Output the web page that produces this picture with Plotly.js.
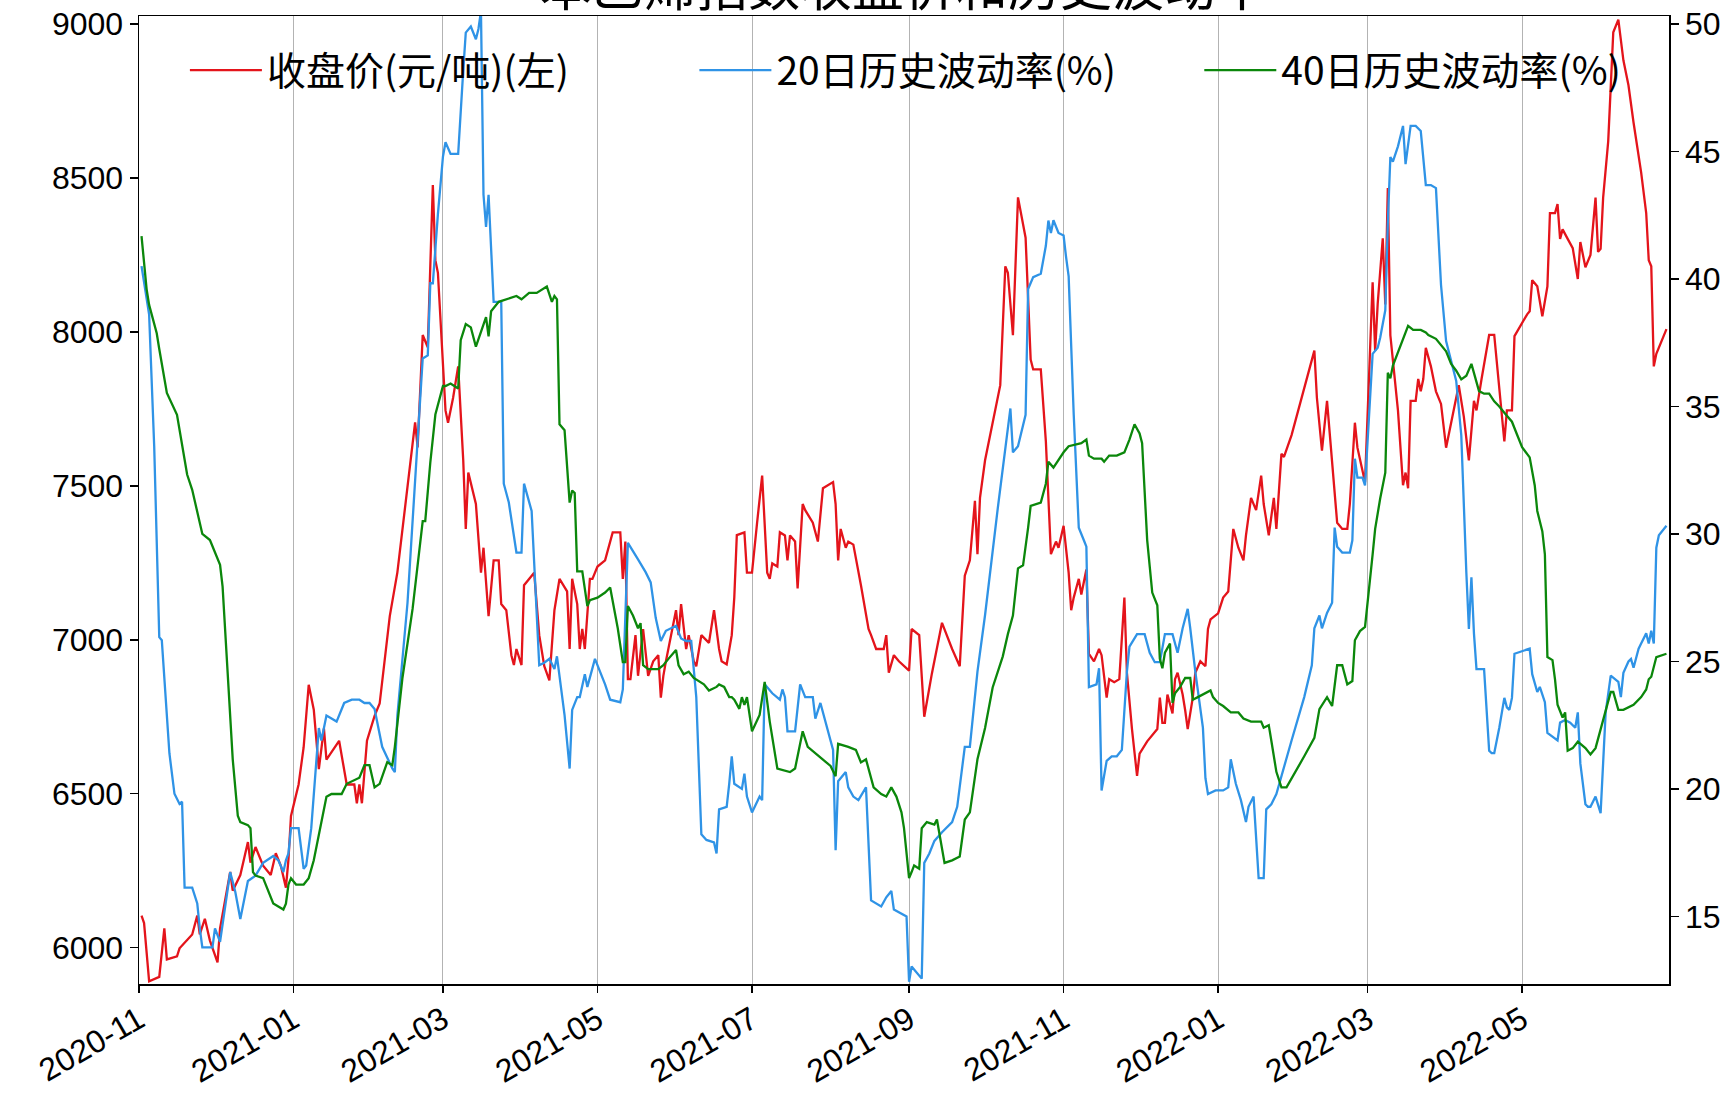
<!DOCTYPE html>
<html>
<head>
<meta charset="utf-8">
<script src="https://cdn.plot.ly/plotly-3.0.1.min.js"></script>
<style>
  html, body { margin: 0; padding: 0; background: #ffffff; }
  #chart { width: 1723px; height: 1094px; }
</style>
</head>
<body>
<div id="chart"></div>
<script>
// ---------- data ----------
const chartTitle = "苯乙烯指数收盘价和历史波动率";
const seriesNames = ["收盘价(元/吨)(左)", "20日历史波动率(%)", "40日历史波动率(%)"];

const priceDates = ["2020-11-02","2020-11-03","2020-11-05","2020-11-09","2020-11-11","2020-11-12","2020-11-16","2020-11-17","2020-11-22","2020-11-24","2020-11-25","2020-11-27","2020-11-29","2020-12-02","2020-12-03","2020-12-07","2020-12-08","2020-12-11","2020-12-14","2020-12-15","2020-12-17","2020-12-20","2020-12-23","2020-12-25","2020-12-27","2020-12-29","2020-12-30","2020-12-31","2021-01-03","2021-01-05","2021-01-07","2021-01-09","2021-01-11","2021-01-13","2021-01-14","2021-01-19","2021-01-22","2021-01-25","2021-01-26","2021-01-27","2021-01-28","2021-01-30","2021-02-02","2021-02-04","2021-02-08","2021-02-11","2021-02-18","2021-02-19","2021-02-21","2021-02-23","2021-02-25","2021-02-26","2021-02-27","2021-03-01","2021-03-02","2021-03-03","2021-03-05","2021-03-07","2021-03-09","2021-03-10","2021-03-11","2021-03-14","2021-03-16","2021-03-17","2021-03-19","2021-03-21","2021-03-23","2021-03-24","2021-03-26","2021-03-28","2021-03-29","2021-03-30","2021-04-01","2021-04-02","2021-04-06","2021-04-08","2021-04-10","2021-04-12","2021-04-14","2021-04-16","2021-04-19","2021-04-20","2021-04-21","2021-04-23","2021-04-24","2021-04-25","2021-04-26","2021-04-28","2021-04-29","2021-05-01","2021-05-04","2021-05-07","2021-05-10","2021-05-11","2021-05-12","2021-05-13","2021-05-14","2021-05-16","2021-05-17","2021-05-19","2021-05-21","2021-05-23","2021-05-25","2021-05-26","2021-05-27","2021-05-28","2021-05-30","2021-06-01","2021-06-02","2021-06-03","2021-06-05","2021-06-06","2021-06-08","2021-06-09","2021-06-11","2021-06-14","2021-06-16","2021-06-18","2021-06-19","2021-06-21","2021-06-23","2021-06-24","2021-06-25","2021-06-28","2021-06-29","2021-07-01","2021-07-03","2021-07-05","2021-07-07","2021-07-08","2021-07-09","2021-07-11","2021-07-12","2021-07-14","2021-07-15","2021-07-16","2021-07-18","2021-07-19","2021-07-21","2021-07-22","2021-07-25","2021-07-27","2021-07-29","2021-08-02","2021-08-03","2021-08-04","2021-08-05","2021-08-07","2021-08-08","2021-08-10","2021-08-13","2021-08-16","2021-08-17","2021-08-19","2021-08-22","2021-08-23","2021-08-24","2021-08-26","2021-08-28","2021-08-30","2021-09-01","2021-09-02","2021-09-05","2021-09-07","2021-09-10","2021-09-14","2021-09-18","2021-09-21","2021-09-23","2021-09-25","2021-09-27","2021-09-28","2021-09-29","2021-10-01","2021-10-07","2021-10-09","2021-10-10","2021-10-12","2021-10-14","2021-10-17","2021-10-19","2021-10-20","2021-10-23","2021-10-25","2021-10-27","2021-10-29","2021-10-30","2021-11-01","2021-11-03","2021-11-04","2021-11-05","2021-11-07","2021-11-08","2021-11-10","2021-11-11","2021-11-13","2021-11-15","2021-11-16","2021-11-18","2021-11-19","2021-11-21","2021-11-23","2021-11-25","2021-11-26","2021-11-28","2021-11-30","2021-12-01","2021-12-04","2021-12-06","2021-12-08","2021-12-09","2021-12-10","2021-12-11","2021-12-12","2021-12-14","2021-12-15","2021-12-16","2021-12-18","2021-12-19","2021-12-20","2021-12-22","2021-12-23","2021-12-25","2021-12-27","2021-12-28","2021-12-29","2022-01-01","2022-01-03","2022-01-05","2022-01-07","2022-01-09","2022-01-11","2022-01-12","2022-01-14","2022-01-16","2022-01-18","2022-01-19","2022-01-21","2022-01-23","2022-01-24","2022-01-26","2022-01-27","2022-01-30","2022-02-08","2022-02-09","2022-02-11","2022-02-13","2022-02-15","2022-02-17","2022-02-19","2022-02-21","2022-02-22","2022-02-24","2022-02-25","2022-02-27","2022-02-28","2022-03-03","2022-03-04","2022-03-05","2022-03-07","2022-03-08","2022-03-09","2022-03-10","2022-03-11","2022-03-13","2022-03-15","2022-03-16","2022-03-17","2022-03-18","2022-03-20","2022-03-21","2022-03-22","2022-03-23","2022-03-24","2022-03-26","2022-03-28","2022-03-30","2022-04-01","2022-04-02","2022-04-04","2022-04-06","2022-04-08","2022-04-10","2022-04-12","2022-04-13","2022-04-15","2022-04-18","2022-04-20","2022-04-22","2022-04-24","2022-04-25","2022-04-27","2022-04-28","2022-04-30","2022-05-03","2022-05-04","2022-05-05","2022-05-07","2022-05-09","2022-05-11","2022-05-12","2022-05-14","2022-05-15","2022-05-16","2022-05-17","2022-05-19","2022-05-21","2022-05-23","2022-05-24","2022-05-26","2022-05-28","2022-05-30","2022-05-31","2022-06-01","2022-06-02","2022-06-04","2022-06-06","2022-06-08","2022-06-10","2022-06-12","2022-06-14","2022-06-17","2022-06-19","2022-06-20","2022-06-21","2022-06-22","2022-06-23","2022-06-27"];
const priceValues = [6104,6080,5891,5905,6063,5962,5972,5998,6043,6104,6043,6094,6023,5952,6063,6246,6185,6236,6343,6276,6327,6266,6236,6307,6266,6195,6286,6428,6530,6651,6854,6773,6580,6712,6611,6672,6530,6530,6469,6530,6469,6672,6753,6793,7077,7219,7706,7625,7990,7950,8477,8233,8192,7867,7745,7705,7786,7888,7583,7360,7543,7441,7218,7299,7077,7258,7258,7116,7096,6950,6918,6970,6918,7177,7218,7015,6914,6868,7096,7198,7157,6970,7198,7116,6970,7035,6970,7198,7198,7238,7258,7349,7349,7198,7319,6872,6872,7015,6883,7035,6883,6930,6950,6812,6883,6930,7015,7096,7015,7116,6970,7015,6930,6914,7015,6990,7096,6970,6930,6920,7015,7137,7340,7349,7218,7218,7380,7533,7218,7198,7248,7238,7349,7339,7258,7339,7319,7167,7441,7421,7380,7319,7492,7512,7441,7258,7360,7299,7319,7309,7177,7035,7015,6970,6970,7015,6893,6950,6930,6914,6900,7035,7015,6750,6890,7055,6970,6914,7208,7258,7451,7278,7461,7583,7827,8213,8192,7989,8437,8306,7910,7878,7878,7645,7278,7319,7299,7370,7218,7096,7137,7198,7147,7228,6954,6930,6970,6950,6812,6872,6862,6872,7137,6893,6710,6558,6630,6670,6690,6710,6812,6730,6730,6822,6761,6872,6893,6822,6771,6710,6812,6893,6930,6914,7035,7066,7086,7137,7157,7360,7299,7258,7339,7461,7421,7533,7441,7339,7461,7360,7604,7594,7665,7939,7786,7614,7776,7583,7380,7360,7360,7441,7705,7624,7543,7512,8161,7938,8091,8304,8089,8467,7989,7910,7745,7502,7543,7492,7776,7776,7847,7807,7847,7948,7888,7807,7766,7624,7665,7745,7827,7725,7583,7776,7745,7847,7990,7990,7807,7644,7745,7745,7986,8016,8057,8067,8168,8148,8051,8148,8386,8386,8415,8302,8333,8302,8272,8172,8292,8210,8250,8436,8260,8270,8436,8619,8973,9014,8882,8801,8680,8518,8386,8233,8213,7888,7929,8009];

const vol20Dates = ["2020-11-02","2020-11-05","2020-11-07","2020-11-09","2020-11-10","2020-11-13","2020-11-15","2020-11-17","2020-11-18","2020-11-19","2020-11-22","2020-11-24","2020-11-25","2020-11-26","2020-11-30","2020-12-01","2020-12-03","2020-12-07","2020-12-09","2020-12-11","2020-12-14","2020-12-17","2020-12-20","2020-12-24","2020-12-26","2020-12-28","2020-12-29","2020-12-30","2020-12-31","2021-01-03","2021-01-05","2021-01-06","2021-01-08","2021-01-10","2021-01-11","2021-01-12","2021-01-14","2021-01-16","2021-01-18","2021-01-21","2021-01-24","2021-01-27","2021-01-29","2021-01-31","2021-02-02","2021-02-05","2021-02-09","2021-02-10","2021-02-11","2021-02-15","2021-02-19","2021-02-21","2021-02-23","2021-02-24","2021-02-25","2021-02-27","2021-03-01","2021-03-02","2021-03-04","2021-03-07","2021-03-09","2021-03-10","2021-03-12","2021-03-14","2021-03-15","2021-03-16","2021-03-17","2021-03-18","2021-03-19","2021-03-20","2021-03-21","2021-03-24","2021-03-25","2021-03-27","2021-03-30","2021-04-01","2021-04-02","2021-04-05","2021-04-08","2021-04-10","2021-04-12","2021-04-14","2021-04-15","2021-04-18","2021-04-20","2021-04-21","2021-04-23","2021-04-24","2021-04-26","2021-04-27","2021-04-30","2021-05-04","2021-05-06","2021-05-10","2021-05-11","2021-05-13","2021-05-14","2021-05-17","2021-05-20","2021-05-22","2021-05-24","2021-05-26","2021-05-28","2021-05-30","2021-06-01","2021-06-03","2021-06-05","2021-06-07","2021-06-08","2021-06-09","2021-06-11","2021-06-13","2021-06-16","2021-06-17","2021-06-18","2021-06-21","2021-06-22","2021-06-23","2021-06-24","2021-06-27","2021-06-28","2021-06-29","2021-07-01","2021-07-04","2021-07-05","2021-07-06","2021-07-09","2021-07-12","2021-07-13","2021-07-14","2021-07-15","2021-07-18","2021-07-20","2021-07-22","2021-07-25","2021-07-26","2021-07-28","2021-07-30","2021-08-02","2021-08-03","2021-08-04","2021-08-07","2021-08-08","2021-08-10","2021-08-12","2021-08-15","2021-08-17","2021-08-21","2021-08-23","2021-08-25","2021-08-26","2021-08-31","2021-09-01","2021-09-02","2021-09-04","2021-09-06","2021-09-07","2021-09-09","2021-09-11","2021-09-14","2021-09-18","2021-09-20","2021-09-23","2021-09-25","2021-09-28","2021-10-01","2021-10-06","2021-10-09","2021-10-11","2021-10-12","2021-10-14","2021-10-17","2021-10-18","2021-10-20","2021-10-23","2021-10-25","2021-10-26","2021-10-27","2021-10-28","2021-10-30","2021-11-01","2021-11-02","2021-11-03","2021-11-05","2021-11-07","2021-11-09","2021-11-10","2021-11-11","2021-11-14","2021-11-15","2021-11-16","2021-11-18","2021-11-20","2021-11-22","2021-11-24","2021-11-26","2021-11-27","2021-11-30","2021-12-03","2021-12-05","2021-12-07","2021-12-09","2021-12-11","2021-12-14","2021-12-16","2021-12-18","2021-12-20","2021-12-21","2021-12-23","2021-12-26","2021-12-27","2021-12-28","2021-12-31","2022-01-03","2022-01-05","2022-01-06","2022-01-08","2022-01-10","2022-01-12","2022-01-13","2022-01-15","2022-01-17","2022-01-19","2022-01-20","2022-01-22","2022-01-24","2022-01-27","2022-01-30","2022-02-04","2022-02-07","2022-02-08","2022-02-10","2022-02-11","2022-02-13","2022-02-15","2022-02-16","2022-02-17","2022-02-19","2022-02-22","2022-02-23","2022-02-24","2022-02-25","2022-02-27","2022-02-28","2022-03-03","2022-03-05","2022-03-06","2022-03-08","2022-03-09","2022-03-10","2022-03-11","2022-03-13","2022-03-15","2022-03-16","2022-03-18","2022-03-20","2022-03-22","2022-03-24","2022-03-26","2022-03-28","2022-03-30","2022-04-01","2022-04-05","2022-04-07","2022-04-09","2022-04-10","2022-04-11","2022-04-12","2022-04-13","2022-04-16","2022-04-18","2022-04-19","2022-04-20","2022-04-22","2022-04-24","2022-04-25","2022-04-26","2022-04-27","2022-04-28","2022-05-01","2022-05-04","2022-05-05","2022-05-07","2022-05-08","2022-05-10","2022-05-11","2022-05-14","2022-05-15","2022-05-16","2022-05-18","2022-05-20","2022-05-22","2022-05-23","2022-05-24","2022-05-26","2022-05-27","2022-05-28","2022-05-30","2022-06-01","2022-06-02","2022-06-03","2022-06-05","2022-06-08","2022-06-09","2022-06-10","2022-06-12","2022-06-13","2022-06-14","2022-06-16","2022-06-17","2022-06-19","2022-06-20","2022-06-21","2022-06-22","2022-06-23","2022-06-24","2022-06-27"];
const vol20Values = [40.5,38.6,33.44,25.95,25.83,21.4,19.81,19.41,19.5,16.13,16.13,15.51,14.53,13.79,13.79,14.53,14.0,16.74,15.97,14.9,16.39,16.6,17.1,17.37,17.2,16.74,17.2,17.47,18.46,18.46,16.87,17.0,18.46,20.93,22.39,21.9,22.88,22.76,22.64,23.37,23.5,23.5,23.37,23.37,23.13,21.65,20.8,20.66,22.88,27.3,33.44,36.88,37.0,39.83,39.83,42.54,44.8,45.36,44.9,44.9,48.18,49.66,49.9,49.4,49.8,50.5,43.3,42.04,43.3,41.1,39.1,39.1,31.97,31.23,29.27,29.27,31.97,30.9,24.85,24.95,25.1,24.7,25.2,22.89,20.8,23.1,23.6,23.6,24.5,24.0,25.1,24.1,23.5,23.4,23.9,29.65,29.5,29.0,28.5,28.1,26.7,25.8,26.2,26.3,26.4,25.9,25.8,25.8,24.6,23.6,18.22,18.0,17.9,17.47,19.2,19.3,20.2,21.28,20.2,20.0,20.6,19.7,19.08,19.7,19.56,24.1,23.75,23.5,23.9,23.6,22.26,22.26,24.1,23.6,23.6,22.76,23.37,22.64,21.53,17.6,20.3,20.66,20.06,19.7,19.56,20.06,15.63,15.39,15.75,16.0,15.27,15.0,12.44,13.04,12.8,12.56,17.1,17.47,17.96,18.3,18.7,19.3,21.65,21.65,24.6,26.82,30.99,33.44,34.92,33.2,33.44,34.67,39.6,40.07,40.2,41.3,42.29,41.8,42.3,41.8,41.7,40.84,40.1,34.68,30.24,29.75,29.5,23.99,24.1,24.73,19.94,21.1,21.28,21.28,21.53,24.6,25.58,26.07,26.07,25.34,24.97,24.97,26.07,26.07,25.34,26.3,27.06,26.3,24.6,22.4,20.42,19.8,19.94,19.94,20.06,21.16,20.2,19.56,18.7,19.3,19.7,16.5,16.5,19.2,19.4,19.8,20.9,21.9,23.6,24.85,26.3,26.8,26.3,26.9,27.3,30.25,29.5,29.27,29.27,29.75,32.95,32.21,32.21,31.9,37.06,37.3,37.7,38.77,42.2,44.78,44.6,45.2,46.0,44.5,46.0,46.0,45.8,43.68,43.68,43.56,39.76,37.56,36.0,33.87,28.48,26.27,28.3,26.1,24.7,24.7,21.5,21.4,21.4,22.4,23.57,23.2,23.1,23.57,25.3,25.4,25.5,24.5,23.8,24.0,23.4,22.2,22.0,21.9,22.6,22.7,22.6,22.4,23.0,21.0,19.4,19.3,19.3,19.7,19.05,21.1,23.0,24.44,24.2,23.6,24.55,25.0,25.1,24.75,25.5,25.7,26.1,25.7,26.2,25.7,29.46,29.95,30.32];

const vol40Dates = ["2020-11-02","2020-11-03","2020-11-04","2020-11-05","2020-11-08","2020-11-09","2020-11-12","2020-11-16","2020-11-20","2020-11-22","2020-11-26","2020-11-29","2020-11-30","2020-12-03","2020-12-04","2020-12-08","2020-12-10","2020-12-11","2020-12-14","2020-12-15","2020-12-16","2020-12-17","2020-12-20","2020-12-21","2020-12-24","2020-12-26","2020-12-28","2020-12-29","2020-12-30","2020-12-31","2021-01-02","2021-01-05","2021-01-07","2021-01-09","2021-01-11","2021-01-14","2021-01-16","2021-01-20","2021-01-22","2021-01-24","2021-01-27","2021-01-29","2021-01-31","2021-02-02","2021-02-04","2021-02-07","2021-02-09","2021-02-10","2021-02-13","2021-02-17","2021-02-21","2021-02-22","2021-02-24","2021-02-26","2021-03-01","2021-03-02","2021-03-04","2021-03-07","2021-03-08","2021-03-10","2021-03-12","2021-03-14","2021-03-16","2021-03-18","2021-03-19","2021-03-20","2021-03-23","2021-03-26","2021-03-30","2021-04-01","2021-04-04","2021-04-07","2021-04-09","2021-04-11","2021-04-13","2021-04-14","2021-04-15","2021-04-16","2021-04-18","2021-04-20","2021-04-21","2021-04-22","2021-04-23","2021-04-25","2021-04-27","2021-04-28","2021-05-01","2021-05-04","2021-05-06","2021-05-09","2021-05-11","2021-05-12","2021-05-13","2021-05-15","2021-05-17","2021-05-18","2021-05-19","2021-05-21","2021-05-25","2021-05-27","2021-05-29","2021-06-01","2021-06-02","2021-06-04","2021-06-06","2021-06-08","2021-06-12","2021-06-14","2021-06-17","2021-06-18","2021-06-20","2021-06-22","2021-06-23","2021-06-24","2021-06-26","2021-06-27","2021-06-28","2021-06-29","2021-07-01","2021-07-04","2021-07-06","2021-07-08","2021-07-11","2021-07-16","2021-07-18","2021-07-21","2021-07-23","2021-07-26","2021-07-29","2021-08-01","2021-08-03","2021-08-04","2021-08-08","2021-08-11","2021-08-13","2021-08-15","2021-08-18","2021-08-21","2021-08-23","2021-08-25","2021-08-27","2021-08-29","2021-08-30","2021-09-01","2021-09-02","2021-09-03","2021-09-05","2021-09-06","2021-09-08","2021-09-11","2021-09-12","2021-09-15","2021-09-18","2021-09-21","2021-09-23","2021-09-25","2021-09-28","2021-10-01","2021-10-04","2021-10-08","2021-10-10","2021-10-12","2021-10-14","2021-10-16","2021-10-18","2021-10-19","2021-10-23","2021-10-25","2021-10-26","2021-10-28","2021-11-01","2021-11-03","2021-11-08","2021-11-10","2021-11-11","2021-11-13","2021-11-16","2021-11-17","2021-11-19","2021-11-22","2021-11-25","2021-11-27","2021-11-29","2021-12-01","2021-12-02","2021-12-04","2021-12-06","2021-12-08","2021-12-09","2021-12-10","2021-12-11","2021-12-13","2021-12-14","2021-12-15","2021-12-17","2021-12-19","2021-12-21","2021-12-22","2021-12-24","2021-12-27","2021-12-29","2021-12-30","2022-01-01","2022-01-03","2022-01-06","2022-01-09","2022-01-11","2022-01-14","2022-01-18","2022-01-19","2022-01-21","2022-01-22","2022-01-24","2022-01-26","2022-01-28","2022-02-04","2022-02-08","2022-02-10","2022-02-13","2022-02-15","2022-02-17","2022-02-19","2022-02-21","2022-02-23","2022-02-24","2022-02-26","2022-02-28","2022-03-03","2022-03-04","2022-03-06","2022-03-08","2022-03-09","2022-03-10","2022-03-11","2022-03-14","2022-03-17","2022-03-19","2022-03-22","2022-03-24","2022-03-25","2022-03-28","2022-03-30","2022-04-01","2022-04-03","2022-04-05","2022-04-07","2022-04-09","2022-04-11","2022-04-12","2022-04-14","2022-04-16","2022-04-18","2022-04-20","2022-04-22","2022-04-24","2022-04-27","2022-04-29","2022-05-01","2022-05-04","2022-05-06","2022-05-07","2022-05-09","2022-05-10","2022-05-11","2022-05-13","2022-05-14","2022-05-15","2022-05-17","2022-05-18","2022-05-19","2022-05-21","2022-05-23","2022-05-26","2022-05-28","2022-05-30","2022-06-01","2022-06-03","2022-06-05","2022-06-06","2022-06-08","2022-06-10","2022-06-12","2022-06-14","2022-06-17","2022-06-19","2022-06-20","2022-06-21","2022-06-23","2022-06-27"];
const vol40Values = [41.68,40.57,39.6,38.98,37.87,37.25,35.53,34.67,32.33,31.73,30.0,29.76,29.51,28.79,27.93,21.16,18.95,18.7,18.58,18.46,16.74,16.6,16.5,16.25,15.51,15.39,15.27,15.5,16.25,16.5,16.25,16.25,16.5,17.2,18.2,19.69,19.8,19.8,20.2,20.3,20.44,20.93,20.93,20.06,20.2,21.05,20.93,21.65,24.35,27.06,30.5,30.5,32.8,34.68,35.8,35.8,35.9,35.7,37.6,38.23,38.1,37.34,37.95,38.5,37.75,38.73,39.1,39.2,39.33,39.2,39.45,39.45,39.58,39.7,39.1,39.33,39.2,34.3,34.07,31.23,31.7,31.6,28.53,28.53,27.17,27.4,27.5,27.7,27.9,26.3,24.97,24.97,27.17,26.8,26.3,26.5,24.85,24.7,24.7,24.85,25.1,25.45,24.85,24.5,24.6,24.35,24.1,23.86,24.0,24.1,24.0,23.6,23.6,23.5,23.14,23.6,23.3,23.6,22.26,22.9,24.2,22.64,20.8,20.66,20.8,22.26,21.65,21.4,21.16,20.9,20.5,21.77,21.65,21.53,21.04,21.16,20.06,19.8,19.7,20.06,19.7,19.08,18.46,16.5,16.74,17.0,16.87,18.46,18.7,18.6,18.8,17.1,17.2,17.35,18.8,19.08,21.16,22.39,23.98,25.2,26.07,26.8,28.65,28.77,30.25,31.1,31.23,31.97,32.83,32.6,33.2,33.44,33.56,33.7,33.07,32.95,32.95,32.83,33.07,33.07,33.2,33.7,34.3,33.94,33.56,29.76,27.7,27.2,25.1,24.73,25.34,25.7,23.37,23.75,24.0,24.35,24.35,23.5,23.6,23.75,23.86,23.6,23.37,23.25,23.0,23.0,22.76,22.64,22.64,22.4,22.5,21.9,20.67,20.06,20.06,21.28,22.0,23.13,23.6,23.25,24.85,24.85,24.1,24.23,25.83,26.19,26.35,29.2,30.2,31.4,32.4,36.32,36.1,36.6,37.4,38.16,38.0,38.0,37.9,37.8,37.65,37.4,37.16,36.67,36.4,36.06,36.2,36.67,36.3,35.6,35.5,35.5,35.2,35.0,34.75,34.4,33.9,33.4,33.0,31.9,30.9,30.1,29.2,25.17,25.05,24.3,23.3,22.8,23.0,21.5,21.6,21.85,21.6,21.35,21.6,22.35,23.1,23.8,23.8,23.1,23.1,23.2,23.3,23.6,23.9,24.3,24.4,25.17,25.3];

const xTickStart = "2020-11-01";
const xRange = ["2020-11-01", "2022-06-28"];
const leftRange = [5882, 9026];
const rightRange = [12.35, 50.31];

// ---------- chart ----------
const cjk = '"Noto Sans CJK SC", "Noto Sans", sans-serif';
const latin = '"Liberation Sans", Arial, sans-serif';

const traces = [
  { x: priceDates, y: priceValues, name: seriesNames[0], type: 'scatter', mode: 'lines',
    line: { color: '#e4141b', width: 2.3 }, yaxis: 'y', legend: 'legend' },
  { x: vol20Dates, y: vol20Values, name: seriesNames[1], type: 'scatter', mode: 'lines',
    line: { color: '#2f93e6', width: 2.3 }, yaxis: 'y2', legend: 'legend2' },
  { x: vol40Dates, y: vol40Values, name: seriesNames[2], type: 'scatter', mode: 'lines',
    line: { color: '#0b870b', width: 2.3 }, yaxis: 'y2', legend: 'legend3' }
];

function legendAt(xPos) {
  return {
    orientation: 'h', x: xPos, xanchor: 'left', y: 0.944, yanchor: 'middle',
    font: { family: cjk, size: 39, color: '#000000' },
    bgcolor: 'rgba(255,255,255,0)', borderwidth: 0, itemwidth: 72
  };
}

const layout = {
  width: 1723, height: 1094,
  paper_bgcolor: '#ffffff', plot_bgcolor: '#ffffff',
  margin: { l: 139, r: 54, t: 16, b: 110, pad: 0 },
  font: { family: latin, color: '#000000', size: 32 },
  title: {
    text: chartTitle, xref: 'paper', x: 0.5, xanchor: 'center',
    yref: 'paper', y: 1, yanchor: 'bottom', pad: { b: 10, t: 0 },
    font: { family: cjk, size: 52, color: '#000000' }
  },
  showlegend: true,
  legend: legendAt(0.030),
  legend2: legendAt(0.363),
  legend3: legendAt(0.693),
  xaxis: {
    type: 'date', range: xRange, tick0: xTickStart, dtick: 'M2', tickformat: '%Y-%m',
    tickangle: -30, tickfont: { family: latin, size: 32, color: '#000000' },
    ticklabelstandoff: -4,
    showgrid: true, gridcolor: '#b3b3b3', gridwidth: 1,
    ticks: 'outside', ticklen: 7, tickwidth: 1.5, tickcolor: '#000000',
    showline: true, linecolor: '#000000', linewidth: 1.5, mirror: true, zeroline: false
  },
  yaxis: {
    range: leftRange, tick0: 0, dtick: 500,
    tickfont: { family: latin, size: 32, color: '#000000' },
    showgrid: false, zeroline: false,
    ticks: 'outside', ticklen: 8, tickwidth: 1.5, tickcolor: '#000000',
    showline: true, linecolor: '#000000', linewidth: 1.5, mirror: false
  },
  yaxis2: {
    range: rightRange, tick0: 0, dtick: 5, overlaying: 'y', side: 'right',
    tickfont: { family: latin, size: 32, color: '#000000' },
    showgrid: false, zeroline: false,
    ticks: 'outside', ticklen: 8, tickwidth: 1.5, tickcolor: '#000000',
    showline: true, linecolor: '#000000', linewidth: 1.5
  }
};

Plotly.newPlot('chart', traces, layout, { staticPlot: true, displayModeBar: false });
</script>
</body>
</html>
